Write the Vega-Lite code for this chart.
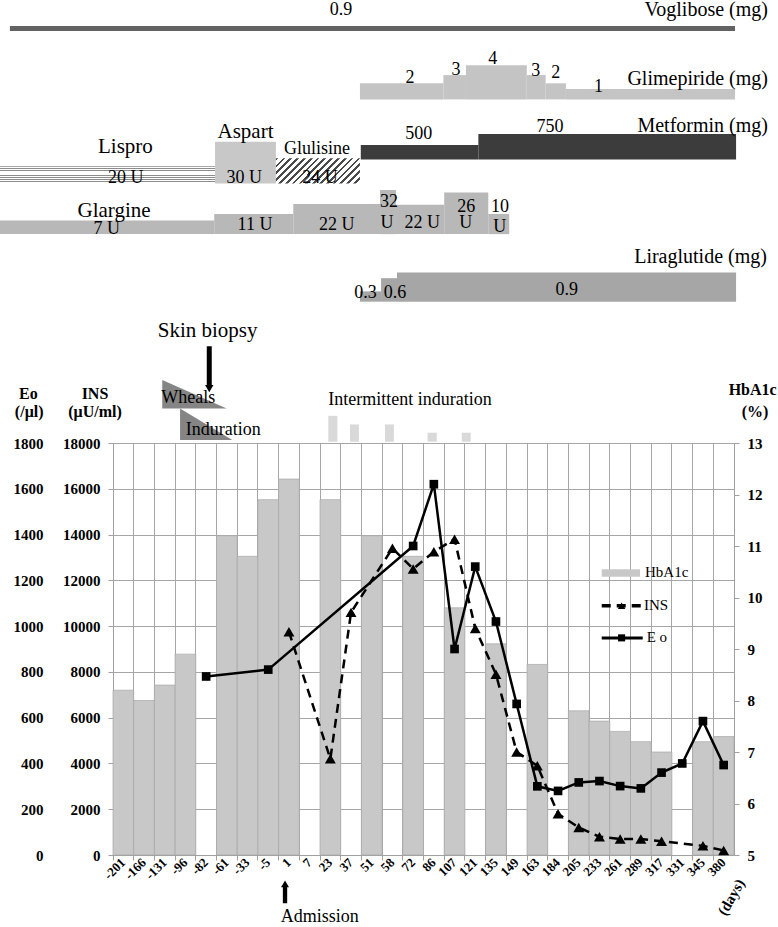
{
  "$schema": "https://vega.github.io/schema/vega-lite/v6.json",
  "width": 621,
  "height": 412,
  "autosize": {"type": "none"},
  "padding": {"left": 113, "top": 443, "right": 44, "bottom": 72},
  "background": "white",
  "config": {
    "font": "Liberation Serif",
    "view": {"stroke": null},
    "axis": {
      "labelFont": "Liberation Serif",
      "titleFont": "Liberation Serif",
      "labelColor": "#000000",
      "labelFontWeight": "bold",
      "labelFontSize": 15,
      "domainColor": "#a0a0a0",
      "tickColor": "#a0a0a0",
      "gridColor": "#a6a6a6",
      "gridOpacity": 1,
      "gridWidth": 1
    },
    "text": {"font": "Liberation Serif", "color": "#000000"}
  },
  "datasets": {
    "hba1c": [
      {"day": -201, "hba1c": 8.2}, {"day": -166, "hba1c": 8.0}, {"day": -131, "hba1c": 8.3}, {"day": -96, "hba1c": 8.9},
      {"day": -61, "hba1c": 11.2}, {"day": -33, "hba1c": 10.8}, {"day": -5, "hba1c": 11.9}, {"day": 1, "hba1c": 12.3},
      {"day": 23, "hba1c": 11.9}, {"day": 51, "hba1c": 11.2}, {"day": 72, "hba1c": 10.8}, {"day": 107, "hba1c": 9.8},
      {"day": 135, "hba1c": 9.1}, {"day": 163, "hba1c": 8.7}, {"day": 205, "hba1c": 7.8}, {"day": 233, "hba1c": 7.6},
      {"day": 261, "hba1c": 7.4}, {"day": 289, "hba1c": 7.2}, {"day": 317, "hba1c": 7.0}, {"day": 345, "hba1c": 7.2},
      {"day": 380, "hba1c": 7.3}
    ],
    "ins": [
      {"day": 1, "ins": 9750}, {"day": 23, "ins": 4200}, {"day": 37, "ins": 10600}, {"day": 58, "ins": 13400},
      {"day": 72, "ins": 12500}, {"day": 86, "ins": 13250}, {"day": 107, "ins": 13800}, {"day": 121, "ins": 9900},
      {"day": 135, "ins": 7900}, {"day": 149, "ins": 4500}, {"day": 163, "ins": 3900}, {"day": 184, "ins": 1800},
      {"day": 205, "ins": 1200}, {"day": 233, "ins": 800}, {"day": 261, "ins": 700}, {"day": 289, "ins": 700},
      {"day": 317, "ins": 600}, {"day": 345, "ins": 400}, {"day": 380, "ins": 200}
    ],
    "eo": [
      {"day": -82, "eo": 780}, {"day": -5, "eo": 810}, {"day": 72, "eo": 1350}, {"day": 86, "eo": 1620},
      {"day": 107, "eo": 900}, {"day": 121, "eo": 1260}, {"day": 135, "eo": 1020}, {"day": 149, "eo": 660},
      {"day": 163, "eo": 300}, {"day": 184, "eo": 280}, {"day": 205, "eo": 317}, {"day": 233, "eo": 323},
      {"day": 261, "eo": 301}, {"day": 289, "eo": 291}, {"day": 317, "eo": 360}, {"day": 331, "eo": 400},
      {"day": 345, "eo": 585}, {"day": 380, "eo": 393}
    ],
    "rects": [
      {"item": "Voglibose", "x": -4.98, "x2": 30.05, "y": 200.0, "y2": 201.2},
      {"item": "Glimepiride", "x": 11.93, "x2": 15.96, "y": 183.4, "y2": 187.3},
      {"item": "Glimepiride", "x": 15.96, "x2": 17.05, "y": 183.4, "y2": 189.3},
      {"item": "Glimepiride", "x": 17.05, "x2": 19.99, "y": 183.4, "y2": 191.7},
      {"item": "Glimepiride", "x": 19.99, "x2": 20.90, "y": 183.4, "y2": 189.3},
      {"item": "Glimepiride", "x": 20.90, "x2": 21.88, "y": 183.4, "y2": 187.3},
      {"item": "Glimepiride", "x": 21.88, "x2": 30.05, "y": 183.4, "y2": 185.9},
      {"item": "Metformin", "x": 11.97, "x2": 17.65, "y": 168.8, "y2": 172.3},
      {"item": "Metformin", "x": 17.65, "x2": 30.10, "y": 168.8, "y2": 175.0},
      {"item": "Lispro", "x": -5.46, "x2": 4.93, "y": 163.0, "y2": 167.2},
      {"item": "Aspart", "x": 4.93, "x2": 7.87, "y": 163.0, "y2": 173.1},
      {"item": "Glulisine", "x": 7.87, "x2": 11.93, "y": 163.0, "y2": 169.1},
      {"item": "Glargine", "x": -5.46, "x2": 4.89, "y": 150.7, "y2": 154.0},
      {"item": "Glargine", "x": 4.89, "x2": 8.71, "y": 150.7, "y2": 155.6},
      {"item": "Glargine", "x": 8.71, "x2": 12.90, "y": 150.7, "y2": 158.0},
      {"item": "Glargine", "x": 12.90, "x2": 13.67, "y": 150.7, "y2": 161.4},
      {"item": "Glargine", "x": 13.67, "x2": 16.00, "y": 150.7, "y2": 157.8},
      {"item": "Glargine", "x": 16.00, "x2": 18.13, "y": 150.7, "y2": 160.8},
      {"item": "Glargine", "x": 18.13, "x2": 19.14, "y": 150.7, "y2": 155.6},
      {"item": "Liraglutide", "x": 11.93, "x2": 12.95, "y": 134.3, "y2": 136.8},
      {"item": "Liraglutide", "x": 12.95, "x2": 13.72, "y": 134.3, "y2": 140.0},
      {"item": "Liraglutide", "x": 13.72, "x2": 30.10, "y": 134.3, "y2": 141.4},
      {"item": "Intermittent", "x": 10.40, "x2": 10.84, "y": 100.3, "y2": 106.6},
      {"item": "Intermittent", "x": 11.45, "x2": 11.88, "y": 100.3, "y2": 104.5},
      {"item": "Intermittent", "x": 13.14, "x2": 13.57, "y": 100.3, "y2": 104.5},
      {"item": "Intermittent", "x": 15.20, "x2": 15.64, "y": 100.3, "y2": 102.5},
      {"item": "Intermittent", "x": 16.85, "x2": 17.28, "y": 100.3, "y2": 102.5},
      {"item": "HbA1c legend", "x": 23.61, "x2": 25.46, "y": 67.55, "y2": 69.35}
    ],
    "tris": [
      {"tri": "Wheals", "x": 2.38, "y": 115.3, "y2": 108.4},
      {"tri": "Wheals", "x": 5.49, "y": 108.4, "y2": 108.4},
      {"tri": "Induration", "x": 3.24, "y": 108.4, "y2": 100.7},
      {"tri": "Induration", "x": 5.76, "y": 100.7, "y2": 100.7}
    ],
    "rules": [
      {"item": "biopsy", "x": 4.65, "x2": 4.65, "y": 123.5, "y2": 114.0},
      {"item": "admission", "x": 8.31, "x2": 8.31, "y": -7.6, "y2": -11.7},
      {"item": "legend INS", "x": 23.61, "x2": 25.59, "y": 60.5, "y2": 60.5},
      {"item": "legend Eo", "x": 23.61, "x2": 25.59, "y": 52.7, "y2": 52.7}
    ],
    "pts": [
      {"item": "biopsy", "x": 4.65, "y": 113.2},
      {"item": "admission", "x": 8.31, "y": -7.0},
      {"item": "legend INS", "x": 24.57, "y": 60.5},
      {"item": "legend Eo", "x": 24.57, "y": 52.7}
    ],
    "texts": [
      {"role": "name", "label": "Lispro", "x": 0.60, "y": 170.5},
      {"role": "name", "label": "Aspart", "x": 6.40, "y": 174.1},
      {"role": "name", "label": "Glargine", "x": 0.05, "y": 154.8},
      {"role": "name", "label": "Skin biopsy", "x": 4.57, "y": 125.8},
      {"role": "nameR", "label": "Voglibose (mg)", "x": 31.64, "y": 203.6},
      {"role": "nameR", "label": "Glimepiride (mg)", "x": 31.64, "y": 186.9},
      {"role": "nameR", "label": "Metformin (mg)", "x": 31.64, "y": 175.6},
      {"role": "nameR", "label": "Liraglutide (mg)", "x": 31.59, "y": 143.6},
      {"role": "dose", "label": "0.9", "x": 11.02, "y": 203.9},
      {"role": "dose", "label": "2", "x": 14.35, "y": 187.3},
      {"role": "dose", "label": "3", "x": 16.57, "y": 189.3},
      {"role": "dose", "label": "4", "x": 18.34, "y": 192.1},
      {"role": "dose", "label": "3", "x": 20.42, "y": 189.1},
      {"role": "dose", "label": "2", "x": 21.39, "y": 188.5},
      {"role": "dose", "label": "1", "x": 23.46, "y": 185.3},
      {"role": "dose", "label": "500", "x": 14.77, "y": 173.8},
      {"role": "dose", "label": "750", "x": 21.11, "y": 175.4},
      {"role": "dose", "label": "20 U", "x": 0.62, "y": 163.2},
      {"role": "dose", "label": "30 U", "x": 6.34, "y": 163.2},
      {"role": "dose", "label": "24 U", "x": 10.0, "y": 163.2},
      {"role": "dose", "label": "7 U", "x": -0.30, "y": 150.7},
      {"role": "dose", "label": "11 U", "x": 6.86, "y": 151.7},
      {"role": "dose", "label": "22 U", "x": 10.81, "y": 151.7},
      {"role": "dose", "label": "32", "x": 13.33, "y": 157.2},
      {"role": "dose", "label": "U", "x": 13.24, "y": 152.1},
      {"role": "dose", "label": "22 U", "x": 14.94, "y": 152.1},
      {"role": "dose", "label": "26", "x": 17.06, "y": 156.1},
      {"role": "dose", "label": "U", "x": 17.04, "y": 152.1},
      {"role": "dose", "label": "10", "x": 18.70, "y": 156.1},
      {"role": "dose", "label": "U", "x": 18.68, "y": 151.3},
      {"role": "dose", "label": "0.3", "x": 12.20, "y": 135.1},
      {"role": "dose", "label": "0.6", "x": 13.62, "y": 135.1},
      {"role": "dose", "label": "0.9", "x": 21.92, "y": 135.9},
      {"role": "note", "label": "Glulisine", "x": 9.86, "y": 170.1},
      {"role": "note", "label": "Wheals", "x": 3.64, "y": 109.8},
      {"role": "note", "label": "Induration", "x": 5.33, "y": 101.9},
      {"role": "note", "label": "Intermittent induration", "x": 14.35, "y": 109.2},
      {"role": "note", "label": "Admission", "x": 9.99, "y": -16.2},
      {"role": "title", "label": "Eo", "x": -4.09, "y": 110.8},
      {"role": "title", "label": "(/μl)", "x": -4.05, "y": 106.4},
      {"role": "title", "label": "INS", "x": -0.87, "y": 110.8},
      {"role": "title", "label": "(μU/ml)", "x": -0.87, "y": 106.4},
      {"role": "title", "label": "HbA1c", "x": 30.9, "y": 111.7},
      {"role": "title", "label": "(%)", "x": 31.02, "y": 106.4},
      {"role": "legend", "label": "HbA1c", "x": 25.70, "y": 67.5},
      {"role": "legend", "label": "INS", "x": 25.65, "y": 59.5},
      {"role": "legend", "label": "E o", "x": 25.78, "y": 51.6},
      {"role": "days", "label": "(days)", "x": 29.86, "y": -10.2}
    ]
  },
  "layer": [
    {
      "data": {"name": "hba1c"},
      "mark": {"type": "bar", "color": "#c8c8c8", "stroke": "#a8a8a8", "strokeWidth": 0.7},
      "encoding": {
        "x": {
          "field": "day", "type": "ordinal",
          "scale": {"type": "band", "domain": [-201,-166,-131,-96,-82,-61,-33,-5,1,7,23,37,51,58,72,86,107,121,135,149,163,184,205,233,261,289,317,331,345,380], "paddingInner": 0, "paddingOuter": 0},
          "axis": {"orient": "bottom", "title": null, "labelAngle": -45, "labelAlign": "right", "labelBaseline": "middle", "labelFontSize": 13, "ticks": false, "tickSize": 0, "labelPadding": 5, "domain": true, "grid": false, "labelOverlap": false}
        },
        "y": {
          "field": "hba1c", "type": "quantitative",
          "scale": {"domain": [5, 13], "zero": false, "nice": false},
          "axis": {"orient": "right", "title": null, "values": [5,6,7,8,9,10,11,12,13], "tickSize": 5, "labelPadding": 8, "grid": false, "domain": true}
        },
        "y2": {"datum": 5}
      }
    },
    {
      "data": {"name": "ins"},
      "mark": {"type": "line", "color": "#000000", "strokeWidth": 2.5, "strokeDash": [9, 6], "point": {"shape": "triangle-up", "size": 120, "filled": true, "color": "#000000", "opacity": 1}},
      "encoding": {
        "x": {
          "field": "day", "type": "ordinal",
          "scale": {"type": "band", "domain": [-201,-166,-131,-96,-82,-61,-33,-5,1,7,23,37,51,58,72,86,107,121,135,149,163,184,205,233,261,289,317,331,345,380], "paddingInner": 0, "paddingOuter": 0},
          "axis": {"orient": "bottom", "title": null, "labels": false, "ticks": true, "tickSize": 5, "bandPosition": 0, "grid": true, "domain": false}
        },
        "y": {
          "field": "ins", "type": "quantitative",
          "scale": {"domain": [0, 18000], "nice": false},
          "axis": {"orient": "left", "title": null, "values": [0,2000,4000,6000,8000,10000,12000,14000,16000,18000], "format": "d", "tickSize": 5, "labelPadding": 8, "grid": true, "domain": true}
        }
      }
    },
    {
      "data": {"name": "eo"},
      "mark": {"type": "line", "color": "#000000", "strokeWidth": 2.5, "point": {"shape": "square", "size": 75, "filled": true, "color": "#000000", "opacity": 1}},
      "encoding": {
        "x": {
          "field": "day", "type": "ordinal",
          "scale": {"type": "band", "domain": [-201,-166,-131,-96,-82,-61,-33,-5,1,7,23,37,51,58,72,86,107,121,135,149,163,184,205,233,261,289,317,331,345,380], "paddingInner": 0, "paddingOuter": 0},
          "axis": null
        },
        "y": {
          "field": "eo", "type": "quantitative",
          "scale": {"domain": [0, 1800], "nice": false},
          "axis": {"orient": "left", "title": null, "values": [0,200,400,600,800,1000,1200,1400,1600,1800], "format": "d", "ticks": false, "tickSize": 0, "labelPadding": 4, "offset": 66, "grid": false, "domain": false}
        }
      }
    },
    {
      "data": {"name": "rects"},
      "transform": [{"filter": "datum.item !== 'Lispro' && datum.item !== 'Glulisine'"}],
      "mark": {"type": "rect"},
      "encoding": {
        "x": {"field": "x", "type": "quantitative", "scale": {"domain": [0, 30], "nice": false, "zero": false}, "axis": null},
        "x2": {"field": "x2"},
        "y": {"field": "y", "type": "quantitative", "scale": {"domain": [0, 100], "nice": false, "zero": false}, "axis": null},
        "y2": {"field": "y2"},
        "color": {
          "field": "item", "type": "nominal", "legend": null,
          "scale": {
            "domain": ["Voglibose", "Glimepiride", "Metformin", "Aspart", "Glargine", "Liraglutide", "Intermittent", "HbA1c legend"],
            "range": ["#626262", "#c4c4c4", "#3c3c3c", "#c8c8c8", "#b8b8b8", "#a6a6a6", "#d9d9d9", "#c8c8c8"]
          }
        }
      }
    },
    {
      "data": {"name": "rects"},
      "transform": [{"filter": "datum.item === 'Lispro'"}],
      "mark": {
        "type": "rect",
        "fill": {
          "gradient": "linear", "x1": 0, "y1": 0, "x2": 0, "y2": 1,
          "stops": [
            {"offset": 0, "color": "#8c8c8c"}, {"offset": 0.05, "color": "#8c8c8c"}, {"offset": 0.05, "color": "#ffffff"}, {"offset": 0.125, "color": "#ffffff"},
            {"offset": 0.125, "color": "#8c8c8c"}, {"offset": 0.175, "color": "#8c8c8c"}, {"offset": 0.175, "color": "#ffffff"}, {"offset": 0.25, "color": "#ffffff"},
            {"offset": 0.25, "color": "#8c8c8c"}, {"offset": 0.3, "color": "#8c8c8c"}, {"offset": 0.3, "color": "#ffffff"}, {"offset": 0.375, "color": "#ffffff"},
            {"offset": 0.375, "color": "#8c8c8c"}, {"offset": 0.425, "color": "#8c8c8c"}, {"offset": 0.425, "color": "#ffffff"}, {"offset": 0.5, "color": "#ffffff"},
            {"offset": 0.5, "color": "#8c8c8c"}, {"offset": 0.55, "color": "#8c8c8c"}, {"offset": 0.55, "color": "#ffffff"}, {"offset": 0.625, "color": "#ffffff"},
            {"offset": 0.625, "color": "#8c8c8c"}, {"offset": 0.675, "color": "#8c8c8c"}, {"offset": 0.675, "color": "#ffffff"}, {"offset": 0.75, "color": "#ffffff"},
            {"offset": 0.75, "color": "#8c8c8c"}, {"offset": 0.8, "color": "#8c8c8c"}, {"offset": 0.8, "color": "#ffffff"}, {"offset": 0.875, "color": "#ffffff"},
            {"offset": 0.875, "color": "#8c8c8c"}, {"offset": 0.925, "color": "#8c8c8c"}, {"offset": 0.925, "color": "#ffffff"}, {"offset": 1, "color": "#ffffff"}
          ]
        }
      },
      "encoding": {
        "x": {"field": "x", "type": "quantitative", "scale": {"domain": [0, 30], "nice": false, "zero": false}, "axis": null},
        "x2": {"field": "x2"},
        "y": {"field": "y", "type": "quantitative", "scale": {"domain": [0, 100], "nice": false, "zero": false}, "axis": null},
        "y2": {"field": "y2"}
      }
    },
    {
      "data": {"name": "rects"},
      "transform": [{"filter": "datum.item === 'Glulisine'"}],
      "mark": {
        "type": "rect",
        "fill": {
          "gradient": "linear", "x1": 0, "y1": 0, "x2": 1.192, "y2": 0.355,
          "stops": [
            {"offset": 0, "color": "#4a4a4a"}, {"offset": 0.025, "color": "#4a4a4a"}, {"offset": 0.025, "color": "#ffffff"}, {"offset": 0.0625, "color": "#ffffff"},
            {"offset": 0.0625, "color": "#4a4a4a"}, {"offset": 0.0875, "color": "#4a4a4a"}, {"offset": 0.0875, "color": "#ffffff"}, {"offset": 0.125, "color": "#ffffff"},
            {"offset": 0.125, "color": "#4a4a4a"}, {"offset": 0.15, "color": "#4a4a4a"}, {"offset": 0.15, "color": "#ffffff"}, {"offset": 0.1875, "color": "#ffffff"},
            {"offset": 0.1875, "color": "#4a4a4a"}, {"offset": 0.2125, "color": "#4a4a4a"}, {"offset": 0.2125, "color": "#ffffff"}, {"offset": 0.25, "color": "#ffffff"},
            {"offset": 0.25, "color": "#4a4a4a"}, {"offset": 0.275, "color": "#4a4a4a"}, {"offset": 0.275, "color": "#ffffff"}, {"offset": 0.3125, "color": "#ffffff"},
            {"offset": 0.3125, "color": "#4a4a4a"}, {"offset": 0.3375, "color": "#4a4a4a"}, {"offset": 0.3375, "color": "#ffffff"}, {"offset": 0.375, "color": "#ffffff"},
            {"offset": 0.375, "color": "#4a4a4a"}, {"offset": 0.4, "color": "#4a4a4a"}, {"offset": 0.4, "color": "#ffffff"}, {"offset": 0.4375, "color": "#ffffff"},
            {"offset": 0.4375, "color": "#4a4a4a"}, {"offset": 0.4625, "color": "#4a4a4a"}, {"offset": 0.4625, "color": "#ffffff"}, {"offset": 0.5, "color": "#ffffff"},
            {"offset": 0.5, "color": "#4a4a4a"}, {"offset": 0.525, "color": "#4a4a4a"}, {"offset": 0.525, "color": "#ffffff"}, {"offset": 0.5625, "color": "#ffffff"},
            {"offset": 0.5625, "color": "#4a4a4a"}, {"offset": 0.5875, "color": "#4a4a4a"}, {"offset": 0.5875, "color": "#ffffff"}, {"offset": 0.625, "color": "#ffffff"},
            {"offset": 0.625, "color": "#4a4a4a"}, {"offset": 0.65, "color": "#4a4a4a"}, {"offset": 0.65, "color": "#ffffff"}, {"offset": 0.6875, "color": "#ffffff"},
            {"offset": 0.6875, "color": "#4a4a4a"}, {"offset": 0.7125, "color": "#4a4a4a"}, {"offset": 0.7125, "color": "#ffffff"}, {"offset": 0.75, "color": "#ffffff"},
            {"offset": 0.75, "color": "#4a4a4a"}, {"offset": 0.775, "color": "#4a4a4a"}, {"offset": 0.775, "color": "#ffffff"}, {"offset": 0.8125, "color": "#ffffff"},
            {"offset": 0.8125, "color": "#4a4a4a"}, {"offset": 0.8375, "color": "#4a4a4a"}, {"offset": 0.8375, "color": "#ffffff"}, {"offset": 0.875, "color": "#ffffff"},
            {"offset": 0.875, "color": "#4a4a4a"}, {"offset": 0.9, "color": "#4a4a4a"}, {"offset": 0.9, "color": "#ffffff"}, {"offset": 0.9375, "color": "#ffffff"},
            {"offset": 0.9375, "color": "#4a4a4a"}, {"offset": 0.9625, "color": "#4a4a4a"}, {"offset": 0.9625, "color": "#ffffff"}, {"offset": 1, "color": "#ffffff"}
          ]
        }
      },
      "encoding": {
        "x": {"field": "x", "type": "quantitative", "scale": {"domain": [0, 30], "nice": false, "zero": false}, "axis": null},
        "x2": {"field": "x2"},
        "y": {"field": "y", "type": "quantitative", "scale": {"domain": [0, 100], "nice": false, "zero": false}, "axis": null},
        "y2": {"field": "y2"}
      }
    },
    {
      "data": {"name": "tris"},
      "mark": {"type": "area", "color": "#858585", "opacity": 1},
      "encoding": {
        "x": {"field": "x", "type": "quantitative", "scale": {"domain": [0, 30], "nice": false, "zero": false}, "axis": null},
        "y": {"field": "y", "type": "quantitative", "scale": {"domain": [0, 100], "nice": false, "zero": false}, "axis": null},
        "y2": {"field": "y2"},
        "detail": {"field": "tri", "type": "nominal"}
      }
    },
    {
      "data": {"name": "rules"},
      "mark": {"type": "rule", "color": "#000000"},
      "encoding": {
        "x": {"field": "x", "type": "quantitative", "scale": {"domain": [0, 30], "nice": false, "zero": false}, "axis": null},
        "x2": {"field": "x2"},
        "y": {"field": "y", "type": "quantitative", "scale": {"domain": [0, 100], "nice": false, "zero": false}, "axis": null},
        "y2": {"field": "y2"},
        "strokeWidth": {"field": "item", "type": "nominal", "legend": null, "scale": {"domain": ["biopsy", "admission", "legend INS", "legend Eo"], "range": [5, 3, 2.5, 2.5]}},
        "strokeDash": {"field": "item", "type": "nominal", "legend": null, "scale": {"domain": ["biopsy", "admission", "legend INS", "legend Eo"], "range": [[1, 0], [1, 0], [9, 6], [1, 0]]}}
      }
    },
    {
      "data": {"name": "pts"},
      "mark": {"type": "point", "filled": true, "color": "#000000", "opacity": 1},
      "encoding": {
        "x": {"field": "x", "type": "quantitative", "scale": {"domain": [0, 30], "nice": false, "zero": false}, "axis": null},
        "y": {"field": "y", "type": "quantitative", "scale": {"domain": [0, 100], "nice": false, "zero": false}, "axis": null},
        "shape": {"field": "item", "type": "nominal", "legend": null, "scale": {"domain": ["biopsy", "admission", "legend INS", "legend Eo"], "range": ["triangle-down", "triangle-up", "triangle-up", "square"]}},
        "size": {"field": "item", "type": "nominal", "legend": null, "scale": {"domain": ["biopsy", "admission", "legend INS", "legend Eo"], "range": [70, 50, 120, 75]}}
      }
    },
    {
      "data": {"name": "texts"},
      "transform": [{"filter": "datum.role === 'name'"}],
      "mark": {"type": "text", "fontSize": 21, "align": "center", "baseline": "alphabetic"},
      "encoding": {
        "x": {"field": "x", "type": "quantitative", "scale": {"domain": [0, 30], "nice": false, "zero": false}, "axis": null},
        "y": {"field": "y", "type": "quantitative", "scale": {"domain": [0, 100], "nice": false, "zero": false}, "axis": null},
        "text": {"field": "label"}
      }
    },
    {
      "data": {"name": "texts"},
      "transform": [{"filter": "datum.role === 'nameR'"}],
      "mark": {"type": "text", "fontSize": 20, "align": "right", "baseline": "alphabetic"},
      "encoding": {
        "x": {"field": "x", "type": "quantitative", "scale": {"domain": [0, 30], "nice": false, "zero": false}, "axis": null},
        "y": {"field": "y", "type": "quantitative", "scale": {"domain": [0, 100], "nice": false, "zero": false}, "axis": null},
        "text": {"field": "label"}
      }
    },
    {
      "data": {"name": "texts"},
      "transform": [{"filter": "datum.role === 'dose'"}],
      "mark": {"type": "text", "fontSize": 18, "align": "center", "baseline": "alphabetic"},
      "encoding": {
        "x": {"field": "x", "type": "quantitative", "scale": {"domain": [0, 30], "nice": false, "zero": false}, "axis": null},
        "y": {"field": "y", "type": "quantitative", "scale": {"domain": [0, 100], "nice": false, "zero": false}, "axis": null},
        "text": {"field": "label"}
      }
    },
    {
      "data": {"name": "texts"},
      "transform": [{"filter": "datum.role === 'note'"}],
      "mark": {"type": "text", "fontSize": 18, "align": "center", "baseline": "alphabetic"},
      "encoding": {
        "x": {"field": "x", "type": "quantitative", "scale": {"domain": [0, 30], "nice": false, "zero": false}, "axis": null},
        "y": {"field": "y", "type": "quantitative", "scale": {"domain": [0, 100], "nice": false, "zero": false}, "axis": null},
        "text": {"field": "label"}
      }
    },
    {
      "data": {"name": "texts"},
      "transform": [{"filter": "datum.role === 'title'"}],
      "mark": {"type": "text", "fontSize": 16, "fontWeight": "bold", "align": "center", "baseline": "alphabetic"},
      "encoding": {
        "x": {"field": "x", "type": "quantitative", "scale": {"domain": [0, 30], "nice": false, "zero": false}, "axis": null},
        "y": {"field": "y", "type": "quantitative", "scale": {"domain": [0, 100], "nice": false, "zero": false}, "axis": null},
        "text": {"field": "label"}
      }
    },
    {
      "data": {"name": "texts"},
      "transform": [{"filter": "datum.role === 'legend'"}],
      "mark": {"type": "text", "fontSize": 15, "align": "left", "baseline": "alphabetic"},
      "encoding": {
        "x": {"field": "x", "type": "quantitative", "scale": {"domain": [0, 30], "nice": false, "zero": false}, "axis": null},
        "y": {"field": "y", "type": "quantitative", "scale": {"domain": [0, 100], "nice": false, "zero": false}, "axis": null},
        "text": {"field": "label"}
      }
    },
    {
      "data": {"name": "texts"},
      "transform": [{"filter": "datum.role === 'days'"}],
      "mark": {"type": "text", "fontSize": 15, "fontWeight": "bold", "align": "center", "baseline": "middle", "angle": -60},
      "encoding": {
        "x": {"field": "x", "type": "quantitative", "scale": {"domain": [0, 30], "nice": false, "zero": false}, "axis": null},
        "y": {"field": "y", "type": "quantitative", "scale": {"domain": [0, 100], "nice": false, "zero": false}, "axis": null},
        "text": {"field": "label"}
      }
    }
  ],
  "resolve": {"scale": {"x": "independent", "y": "independent", "color": "independent", "shape": "independent", "size": "independent", "strokeWidth": "independent", "strokeDash": "independent"}}
}
